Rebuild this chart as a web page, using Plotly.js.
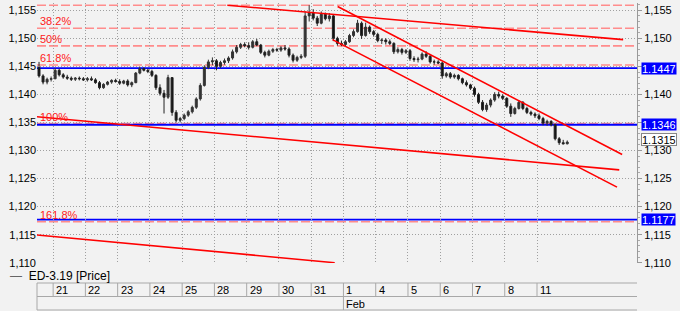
<!DOCTYPE html>
<html>
<head>
<meta charset="utf-8">
<script src="https://cdn.plot.ly/plotly-3.0.1.min.js"></script>
<style>html,body{margin:0;padding:0;background:#f2f2f2;}#chart{width:680px;height:311px;}</style>
</head>
<body>
<div id="chart"></div>
<script>
// ---- Data (ED-3.19 intraday candles, 8 per trading day; first 4 = late Jan 18) ----
const open = [
1.1448,1.1433,1.1422,1.1427,
1.1428,1.1443,1.1435,1.1431,1.1429,1.1427,1.1429,1.1428,
1.1426,1.1428,1.1426,1.1421,1.1412,1.1418,1.1422,1.1425,
1.1423,1.1420,1.1424,1.1417,1.1421,1.1438,1.1446,1.1443,
1.1441,1.1434,1.1412,1.1402,1.1395,1.1430,1.1368,1.1354,
1.1357,1.1363,1.1369,1.1377,1.1392,1.1416,1.1448,1.1458,
1.1460,1.1450,1.1457,1.1460,1.1465,1.1476,1.1484,1.1489,
1.1487,1.1484,1.1494,1.1488,1.1475,1.1470,1.1477,1.1480,
1.1479,1.1483,1.1481,1.1470,1.1461,1.1466,1.1468,1.1540,
1.1545,1.1536,1.1527,1.1543,1.1535,1.1540,1.1500,1.1491,
1.1489,1.1494,1.1505,1.1512,1.1527,1.1505,1.1520,1.1512,
1.1507,1.1496,1.1497,1.1494,1.1491,1.1476,1.1480,1.1475,
1.1478,1.1464,1.1462,1.1463,1.1472,1.1468,1.1458,1.1458,
1.1456,1.1433,1.1437,1.1431,1.1434,1.1428,1.1421,1.1417,
1.1411,1.1400,1.1386,1.1373,1.1381,1.1390,1.1400,1.1397,
1.1393,1.1379,1.1366,1.1375,1.1386,1.1375,1.1368,1.1365,
1.1362,1.1357,1.1349,1.1352,1.1346,1.1321,1.1314,1.1312
];
const high = [
1.1458,1.1436,1.1430,1.1432,
1.1447,1.1446,1.1438,1.1435,1.1432,1.1431,1.1432,1.1431,
1.1431,1.1432,1.1429,1.1424,1.1420,1.1424,1.1427,1.1428,
1.1427,1.1426,1.1427,1.1423,1.1440,1.1449,1.1448,1.1446,
1.1444,1.1436,1.1418,1.1408,1.1435,1.1431,1.1372,1.1360,
1.1366,1.1372,1.1380,1.1395,1.1420,1.1452,1.1462,1.1466,
1.1463,1.1460,1.1464,1.1468,1.1480,1.1488,1.1492,1.1493,
1.1493,1.1497,1.1499,1.1490,1.1478,1.1480,1.1483,1.1483,
1.1486,1.1488,1.1484,1.1473,1.1469,1.1472,1.1548,1.1559,
1.1552,1.1540,1.1548,1.1546,1.1545,1.1542,1.1503,1.1496,
1.1497,1.1508,1.1516,1.1533,1.1530,1.1528,1.1523,1.1515,
1.1510,1.1500,1.1500,1.1498,1.1493,1.1484,1.1483,1.1481,
1.1481,1.1468,1.1467,1.1475,1.1477,1.1470,1.1462,1.1461,
1.1458,1.1440,1.1440,1.1437,1.1436,1.1430,1.1425,1.1419,
1.1414,1.1403,1.1390,1.1385,1.1393,1.1404,1.1405,1.1400,
1.1395,1.1384,1.1378,1.1390,1.1388,1.1378,1.1371,1.1368,
1.1366,1.1360,1.1355,1.1354,1.1348,1.1324,1.1319,1.1318
];
const low = [
1.1430,1.1418,1.1418,1.1423,
1.1427,1.1432,1.1428,1.1426,1.1424,1.1424,1.1425,1.1424,
1.1423,1.1424,1.1419,1.1409,1.1410,1.1416,1.1419,1.1421,
1.1417,1.1418,1.1414,1.1413,1.1420,1.1436,1.1441,1.1438,
1.1431,1.1408,1.1398,1.1366,1.1392,1.1362,1.1350,1.1350,
1.1354,1.1360,1.1366,1.1374,1.1389,1.1414,1.1445,1.1452,
1.1443,1.1447,1.1453,1.1456,1.1462,1.1473,1.1481,1.1484,
1.1480,1.1482,1.1486,1.1472,1.1466,1.1468,1.1474,1.1476,
1.1476,1.1478,1.1466,1.1457,1.1458,1.1463,1.1465,1.1530,
1.1532,1.1522,1.1525,1.1532,1.1530,1.1495,1.1487,1.1486,
1.1486,1.1492,1.1502,1.1510,1.1499,1.1503,1.1508,1.1503,
1.1493,1.1490,1.1489,1.1488,1.1472,1.1473,1.1471,1.1472,
1.1460,1.1458,1.1457,1.1461,1.1465,1.1455,1.1453,1.1454,
1.1428,1.1430,1.1428,1.1428,1.1425,1.1418,1.1414,1.1408,
1.1396,1.1383,1.1370,1.1369,1.1377,1.1387,1.1393,1.1390,
1.1376,1.1360,1.1364,1.1373,1.1372,1.1365,1.1362,1.1358,
1.1354,1.1345,1.1344,1.1343,1.1318,1.1310,1.1311,1.1311
];
const close = [
1.1433,1.1422,1.1427,1.1428,
1.1443,1.1435,1.1431,1.1429,1.1427,1.1429,1.1428,1.1426,
1.1428,1.1426,1.1421,1.1412,1.1418,1.1422,1.1425,1.1423,
1.1420,1.1424,1.1417,1.1421,1.1438,1.1446,1.1443,1.1441,
1.1434,1.1412,1.1402,1.1395,1.1430,1.1368,1.1354,1.1357,
1.1363,1.1369,1.1377,1.1392,1.1416,1.1448,1.1458,1.1460,
1.1450,1.1457,1.1460,1.1465,1.1476,1.1484,1.1489,1.1487,
1.1484,1.1494,1.1488,1.1475,1.1470,1.1477,1.1480,1.1479,
1.1483,1.1481,1.1470,1.1461,1.1466,1.1468,1.1540,1.1545,
1.1536,1.1527,1.1543,1.1535,1.1540,1.1500,1.1491,1.1489,
1.1494,1.1505,1.1512,1.1527,1.1505,1.1520,1.1512,1.1507,
1.1496,1.1497,1.1494,1.1491,1.1476,1.1480,1.1475,1.1478,
1.1464,1.1462,1.1463,1.1472,1.1468,1.1458,1.1458,1.1456,
1.1433,1.1437,1.1431,1.1434,1.1428,1.1421,1.1417,1.1411,
1.1400,1.1386,1.1373,1.1381,1.1390,1.1400,1.1397,1.1393,
1.1379,1.1366,1.1375,1.1386,1.1375,1.1368,1.1365,1.1362,
1.1357,1.1349,1.1352,1.1346,1.1321,1.1314,1.1312,1.1315
];
const candlesPerDay = 8;
const dayLabels = ['21','22','23','24','25','28','29','30','31','1','4','5','6','7','8','11'];
const monthLabels = ['Feb'];
const monthDayIndex = [9];
const yTickVals = [1.110,1.115,1.120,1.125,1.130,1.135,1.140,1.145,1.150,1.155];
const yTickText = ['1,110','1,115','1,120','1,125','1,130','1,135','1,140','1,145','1,150','1,155'];
const fibLevels = [1.1559,1.1518,1.14865,1.14525,1.1348,1.1173];
const fibLabels = ['','38.2%','50%','61.8%','100%','161.8%'];
const blueLevels = [1.1447,1.1346,1.1177];
const trendTimes = [[5.40,17.67],[8.82,17.64],[8.66,17.48],[-0.5,17.55],[-0.5,8.73]];
const trendPrices = [[1.1559,1.14977],[1.15567,1.12929],[1.14977,1.12347],[1.13602,1.12656],[1.11495,1.1100]];
const seriesName = 'ED-3.19 [Price]';

// ---- Build ----
const xs = close.map((_, i) => (i + 0.5) / candlesPerDay - 0.5);
const dayIdx = dayLabels.map((_, i) => i);
// right-hand labels hidden where a level box sits on them
const yTickTextRight = yTickVals.map((v, i) => blueLevels.some(b => Math.abs(b - v) < 0.0008) ? '' : yTickText[i]);

const traces = [{
  type: 'candlestick', x: xs, open: open, high: high, low: low, close: close,
  increasing: {line: {color: '#333', width: 1}, fillcolor: '#333'},
  decreasing: {line: {color: '#222', width: 1}, fillcolor: '#111'},
  whiskerwidth: 0, hoverinfo: 'skip', name: seriesName
}];
trendTimes.forEach((t, i) => traces.push({
  type: 'scatter', mode: 'lines', x: t, y: trendPrices[i],
  line: {color: '#ff0000', width: 1.6}, hoverinfo: 'skip'
}));
traces.push({type: 'scatter', mode: 'markers', x: [xs[xs.length - 1]], y: [close[close.length - 1]],
  yaxis: 'y2', marker: {opacity: 0}, hoverinfo: 'skip'});

const shapes = [];
const annotations = [];
const P = (px) => (263 - px) / 260; // paper y helper for the ruler area below the plot
const rulerColor = '#a8a8a8';

fibLevels.forEach((lv, i) => {
  shapes.push({type: 'line', xref: 'paper', x0: 0, x1: 1, yref: 'y', y0: lv, y1: lv, layer: 'between',
    line: {color: '#ff8c8c', width: 1.6, dash: '9px,3px'}});
  if (fibLabels[i]) annotations.push({xref: 'paper', x: 0, xanchor: 'left', xshift: 1, yref: 'y', y: lv,
    yanchor: 'middle', yshift: 7, text: fibLabels[i], showarrow: false, font: {color: '#ff2020', size: 11}});
});
blueLevels.forEach(lv => {
  shapes.push({type: 'line', xref: 'paper', x0: 0, x1: 1, yref: 'y', y0: lv, y1: lv, layer: 'between',
    line: {color: '#0000ff', width: 1.8}});
  annotations.push({xref: 'paper', x: 1, xanchor: 'left', xshift: 4, yref: 'y', y: lv, yanchor: 'middle',
    text: lv.toFixed(4), showarrow: false, bgcolor: '#0000ff', borderpad: 0, height: 11,
    font: {color: '#ffffff', size: 11}});
});
const last = close[close.length - 1];
annotations.push({xref: 'paper', x: 1, xanchor: 'left', xshift: 4, yref: 'y', y: last, yanchor: 'middle', yshift: 3,
  text: last.toFixed(4), showarrow: false, bgcolor: '#ffffff', bordercolor: '#888', borderwidth: 1, borderpad: 0,
  height: 11, font: {color: '#000', size: 11}});

// ruler below the plot
[283, 296.5, 310].forEach(py => shapes.push({type: 'line', xref: 'paper', x0: 0, x1: 1, yref: 'paper',
  y0: P(py), y1: P(py), line: {color: rulerColor, width: 1}}));
shapes.push({type: 'line', xref: 'paper', x0: 0, x1: 0, yref: 'paper', y0: P(283), y1: P(310), line: {color: rulerColor, width: 1}});
dayIdx.forEach((d, i) => {
  const isMonth = monthDayIndex.indexOf(d) >= 0;
  shapes.push({type: 'line', xref: 'x', x0: d, x1: d, yref: 'paper', y0: P(283), y1: P(isMonth ? 310 : 296.5),
    line: {color: rulerColor, width: 1}});
  annotations.push({xref: 'x', x: d, xanchor: 'left', xshift: 1, yref: 'paper', y: P(290), yanchor: 'middle',
    text: dayLabels[i], showarrow: false, font: {size: 11, color: '#000'}});
});
monthLabels.forEach((m, i) => annotations.push({xref: 'x', x: monthDayIndex[i], xanchor: 'left', xshift: 1,
  yref: 'paper', y: P(303.5), yanchor: 'middle', text: m, showarrow: false, font: {size: 11, color: '#000'}}));

// legend line
annotations.push({xref: 'paper', x: (8 - 37) / 600, xanchor: 'left', yref: 'paper', y: P(276), yanchor: 'middle',
  text: '<span style="color:#666">—</span>  ' + seriesName, showarrow: false, font: {size: 12, color: '#000'}});

const yRange = [1.10995, 1.1563];
const layout = {
  width: 680, height: 311,
  margin: {l: 37, r: 43, t: 3, b: 48, pad: 0},
  paper_bgcolor: '#f2f2f2', plot_bgcolor: '#f2f2f2',
  font: {family: '"Liberation Sans", Arial, sans-serif', size: 11, color: '#000'},
  showlegend: false,
  xaxis: {range: [-0.5, 18.1], tickmode: 'array', tickvals: dayIdx, showticklabels: false, ticks: '',
    showgrid: true, gridcolor: '#a0a0a0', griddash: '1px,2px', gridwidth: 1, zeroline: false, showline: false,
    rangeslider: {visible: false}, fixedrange: true},
  yaxis: {range: yRange, tickmode: 'array', tickvals: yTickVals, ticktext: yTickText, ticks: '',
    showgrid: true, gridcolor: '#a0a0a0', griddash: '1px,2px', gridwidth: 1, zeroline: false, showline: false,
    tickfont: {size: 11}, fixedrange: true},
  yaxis2: {overlaying: 'y', side: 'right', range: yRange, tickmode: 'array', tickvals: yTickVals, ticktext: yTickTextRight,
    ticks: 'outside', ticklen: 4, tickcolor: '#999', showline: true, linecolor: '#999', linewidth: 1,
    showgrid: false, zeroline: false, tickfont: {size: 11}, fixedrange: true,
    minor: {tickmode: 'linear', tick0: 1.110, dtick: 0.001, ticks: 'outside', ticklen: 2, tickcolor: '#aaa', showgrid: false}},
  shapes: shapes,
  annotations: annotations
};
Plotly.newPlot('chart', traces, layout, {displayModeBar: false, staticPlot: true});
</script>
</body>
</html>
